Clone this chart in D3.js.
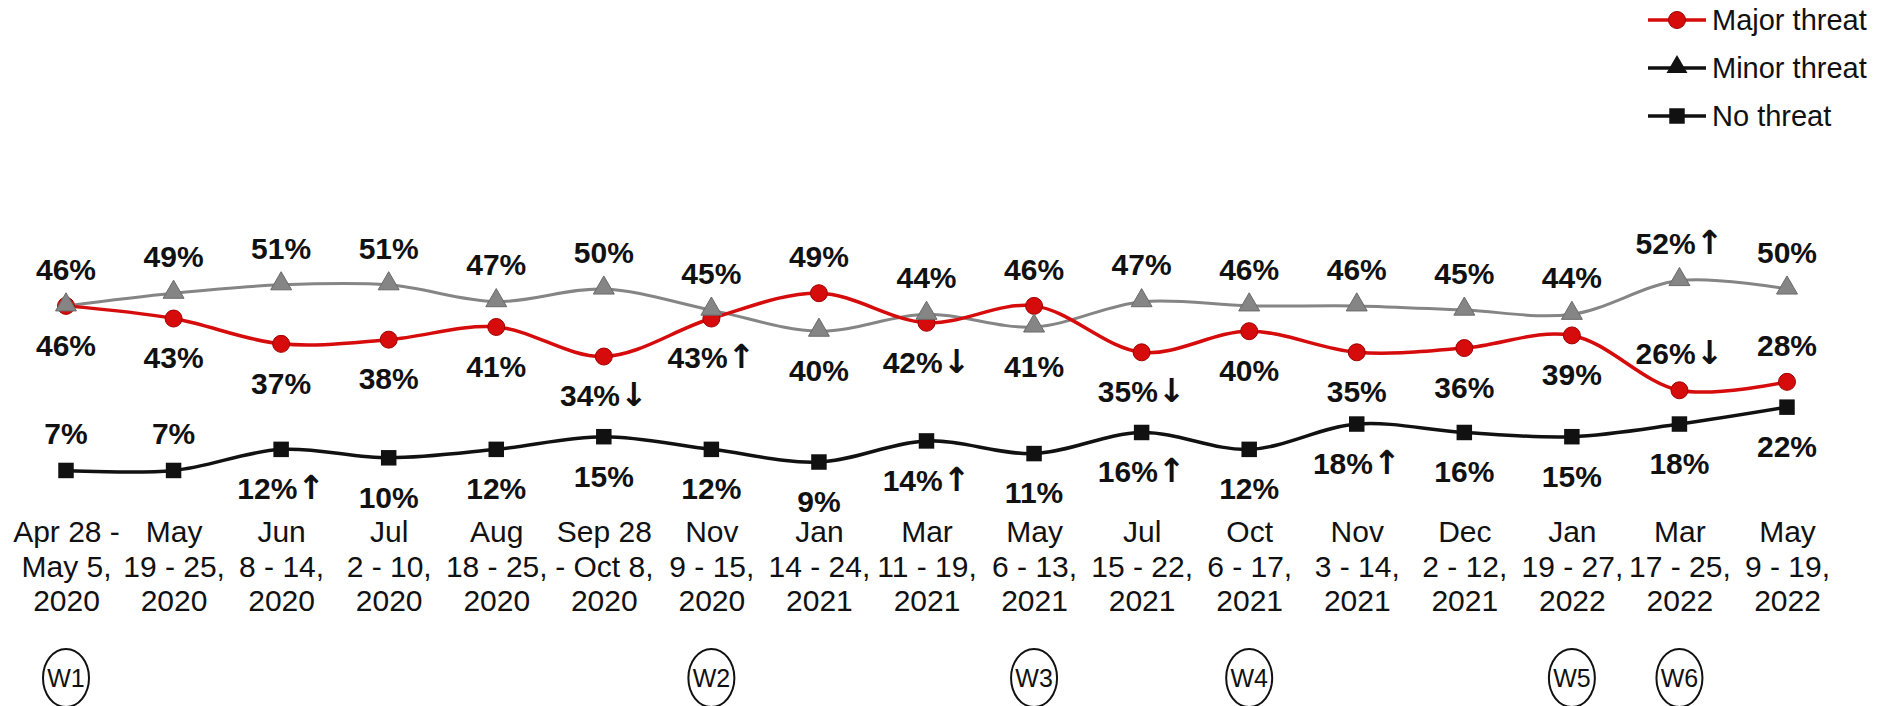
<!DOCTYPE html>
<html>
<head>
<meta charset="utf-8">
<script src="https://cdn.jsdelivr.net/npm/d3@7"></script>
<style>
  html, body { margin: 0; padding: 0; background: #ffffff; }
  svg { display: block; }
  text { font-family: "Liberation Sans", Arial, sans-serif; }
</style>
</head>
<body>
<svg id="chart" width="1892" height="706"></svg>
<script>
// ---- data ----
const dateLine1 = ["Apr 28 -","May","Jun","Jul","Aug","Sep 28","Nov","Jan","Mar","May","Jul","Oct","Nov","Dec","Jan","Mar","May"];
const dateLine2 = ["May 5,","19 - 25,","8 - 14,","2 - 10,","18 - 25,","- Oct 8,","9 - 15,","14 - 24,","11 - 19,","6 - 13,","15 - 22,","6 - 17,","3 - 14,","2 - 12,","19 - 27,","17 - 25,","9 - 19,"];
const dateLine3 = ["2020","2020","2020","2020","2020","2020","2020","2021","2021","2021","2021","2021","2021","2021","2022","2022","2022"];

const majorThreat = [46, 43, 37, 38, 41, 34, 43, 49, 42, 46, 35, 40, 35, 36, 39, 26, 28];
const minorThreat = [46, 49, 51, 51, 47, 50, 45, 40, 44, 41, 47, 46, 46, 45, 44, 52, 50];
const noThreat    = [ 7,  7, 12, 10, 12, 15, 12,  9, 14, 11, 16, 12, 18, 16, 15, 18, 22];

// significance arrows
const majorSig = ["","","","","","↓","↑","","↓","","↓","","","","","↓",""];
const minorSig = ["","","","","","","","","","","","","","","","↑",""];
const noSig    = ["","","↑","","","","","","↑","","↑","","↑","","","",""];

const waveLabels = ["W1","W2","W3","W4","W5","W6"];
const waveIndex  = [0, 6, 9, 11, 14, 15];

const seriesNames = ["Major threat","Minor threat","No threat"];

// ---- layout ----
const svg = d3.select("#chart");
const idx = d3.range(majorThreat.length);

const x = d3.scalePoint().domain(idx).range([66, 1787]);
const y = d3.scaleLinear().domain([0, 50]).range([500, 289]);

const RED = "#d60b0b", GRAY = "#858585", BLACK = "#111111";

const line = d3.line()
  .x((d, i) => x(i))
  .y(d => y(d))
  .curve(d3.curveCatmullRom.alpha(0.5));

// x axis (category labels)
const axis = d3.axisBottom(x).tickSize(0).tickFormat(() => "");
const gAxis = svg.append("g").attr("transform", "translate(0,510)").call(axis);
gAxis.select(".domain").remove();
gAxis.selectAll(".tick").each(function(i) {
  const t = d3.select(this).append("text")
    .attr("fill", "#111")
    .attr("text-anchor", "middle")
    .style("font-size", "30px")
    .style("font-family", "'Liberation Sans', Arial, sans-serif");
  [dateLine1[i], dateLine2[i], dateLine3[i]].forEach((s, k) => {
    t.append("tspan").attr("x", 0).attr("y", 32 + k * 34.5).text(s);
  });
});

// lines
svg.append("path").datum(minorThreat).attr("d", line)
  .attr("fill", "none").attr("stroke", GRAY).attr("stroke-width", 3);
svg.append("path").datum(majorThreat).attr("d", line)
  .attr("fill", "none").attr("stroke", RED).attr("stroke-width", 3.5);
svg.append("path").datum(noThreat).attr("d", line)
  .attr("fill", "none").attr("stroke", BLACK).attr("stroke-width", 3.5);

// markers
const tri = d3.symbol().type(d3.symbolTriangle).size(190);
const sq  = d3.symbol().type(d3.symbolSquare).size(240);

svg.append("g").selectAll("circle").data(majorThreat).join("circle")
  .attr("cx", (d, i) => x(i)).attr("cy", d => y(d)).attr("r", 8.5)
  .attr("fill", RED).attr("stroke", "#a00000").attr("stroke-width", 1);

svg.append("g").selectAll("path").data(minorThreat).join("path")
  .attr("d", tri).attr("transform", (d, i) => `translate(${x(i)},${y(d) - 1})`)
  .attr("fill", GRAY).attr("stroke", "#6a6a6a").attr("stroke-width", 1);

svg.append("g").selectAll("path").data(noThreat).join("path")
  .attr("d", sq).attr("transform", (d, i) => `translate(${x(i)},${y(d)})`)
  .attr("fill", BLACK);

// value labels
const labelG = svg.append("g")
  .style("font-size", "30px").style("font-weight", "bold").attr("fill", "#111")
  .attr("text-anchor", "middle");
const ABOVE = -37, BELOW = 39;

function addLabel(i, v, sig, place) {
  const t = labelG.append("text")
    .attr("x", x(i))
    .attr("y", y(v) + (place === "above" ? ABOVE : BELOW))
    .attr("dy", "0.36em");
  t.append("tspan").text(v + "%");
  if (sig) {
    t.append("tspan")
      .style("font-family", "'DejaVu Sans', sans-serif")
      .style("font-weight", "bold")
      .style("font-size", "33px")
      .text(sig);
  }
}

idx.forEach(i => {
  const ma = majorThreat[i], mi = minorThreat[i], no = noThreat[i];
  // minor: above unless major is higher
  const minorPlace = mi >= ma ? "above" : "below";
  // major: below unless higher than minor, or crowded by no-threat
  let majorPlace = ma > mi ? "above" : "below";
  if (ma - no < 10) majorPlace = "above";
  addLabel(i, mi, minorSig[i], minorPlace);
  addLabel(i, ma, majorSig[i], majorPlace);
  // no threat: very low values are labelled above (clear of the date labels)
  const noPlace = no < 9 ? "above" : "below";
  addLabel(i, no, noSig[i], noPlace);
});

// wave circles
const waveG = svg.append("g");
waveIndex.forEach((wi, k) => {
  const cx = x(wi);
  waveG.append("ellipse").attr("cx", cx).attr("cy", 678).attr("rx", 23).attr("ry", 29)
    .attr("fill", "none").attr("stroke", "#111").attr("stroke-width", 2);
  waveG.append("text").attr("x", cx).attr("y", 678).attr("dy", "0.36em")
    .attr("text-anchor", "middle").style("font-size", "25px").attr("fill", "#111")
    .text(waveLabels[k]);
});

// legend
const legend = svg.append("g").attr("transform", "translate(1648,0)");
const legendYs = [20, 68, 116];
seriesNames.forEach((name, k) => {
  const g = legend.append("g").attr("transform", `translate(0,${legendYs[k]})`);
  g.append("line").attr("x1", 0).attr("x2", 58).attr("y1", 0).attr("y2", 0)
    .attr("stroke", k === 0 ? RED : BLACK).attr("stroke-width", 3.5);
  if (k === 0) {
    g.append("circle").attr("cx", 29).attr("cy", 0).attr("r", 8.5).attr("fill", RED).attr("stroke", "#a00000");
  } else if (k === 1) {
    g.append("path").attr("d", tri).attr("transform", "translate(29,-1)").attr("fill", BLACK);
  } else {
    g.append("path").attr("d", sq).attr("transform", "translate(29,0)").attr("fill", BLACK);
  }
  g.append("text").attr("x", 64).attr("y", 0).attr("dy", "0.36em")
    .style("font-size", "29px").attr("fill", "#111").text(name);
});
</script>
</body>
</html>
